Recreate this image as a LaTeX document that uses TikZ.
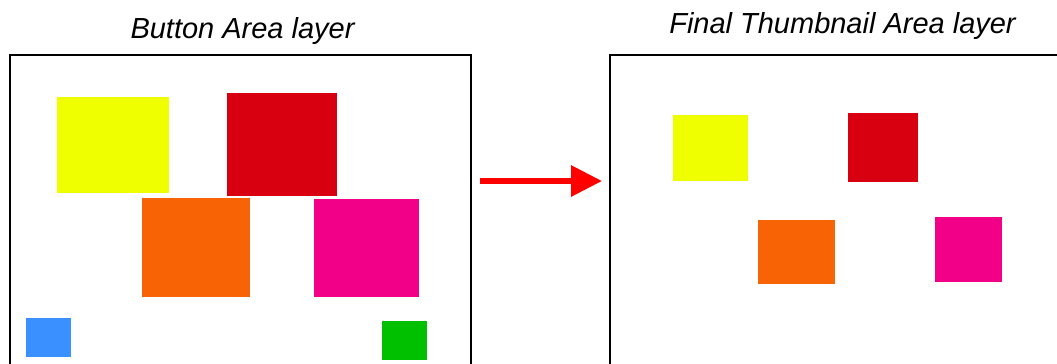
\documentclass[tikz,border=0pt]{standalone}
\usepackage{fontspec}
\setmainfont{Liberation Sans}
\usepackage{tikz}
\usetikzlibrary{arrows.meta,positioning}
\definecolor{byellow}{HTML}{F0FF00}
\definecolor{bred}{HTML}{D80010}
\definecolor{borange}{HTML}{F86405}
\definecolor{bmagenta}{HTML}{F20088}
\definecolor{bblue}{HTML}{3A90FF}
\definecolor{bgreen}{HTML}{00C000}
\definecolor{arrred}{HTML}{FF0000}

\begin{document}
\begin{tikzpicture}[
      x=0.02cm, y=-0.02cm,
      frame/.style={draw=black, line width=0.04cm, inner sep=0pt, minimum height=7.3cm},
      btn/.style={inner sep=0pt, draw=none},
      title/.style={anchor=base, font=\fontsize{16.5}{20}\selectfont\itshape},
      arr/.style={-{Triangle[length=0.62cm, width=0.6cm]}, arrred, line width=0.12cm,
                  shorten <=0.16cm, shorten >=0.14cm}
    ]
    \useasboundingbox (0,0) rectangle (1057,363);
    \clip (0,0) rectangle (1057,363);
    % layers
    \node[frame, minimum width=9.22cm] (lframe) at (240.5,237.5) {};
    \node[frame, minimum width=9.8cm] (rframe) at (855,237.5) {};
    \node[title] (ltitle) at (242.5,38) {Button Area layer};
    \node[title] (rtitle) at (842.5,33) {Final Thumbnail Area layer};
    % buttons
    \node[btn, fill=byellow, minimum width=2.24cm, minimum height=1.92cm] (by) at (113,145) {};
    \node[btn, fill=bred, minimum width=2.2cm, minimum height=2.06cm] (br) at (282,144.5) {};
    \node[btn, fill=borange, minimum width=2.16cm, minimum height=1.98cm] (bo) at (196,247.5) {};
    \node[btn, fill=bmagenta, minimum width=2.1cm, minimum height=1.96cm] (bm) at (366.5,248) {};
    \node[btn, fill=bblue, minimum width=0.9cm, minimum height=0.78cm] (bb) at (48.5,337.5) {};
    \node[btn, fill=bgreen, minimum width=0.9cm, minimum height=0.78cm] (bg) at (404.5,340.5) {};
    % thumbnails
    \node[btn, fill=byellow, minimum width=1.5cm, minimum height=1.32cm] (ty) at (710.5,148) {};
    \node[btn, fill=bred, minimum width=1.4cm, minimum height=1.38cm] (tr) at (883,147.5) {};
    \node[btn, fill=borange, minimum width=1.54cm, minimum height=1.28cm] (to) at (796.5,252) {};
    \node[btn, fill=bmagenta, minimum width=1.34cm, minimum height=1.3cm] (tm) at (968.5,249.5) {};
    \draw[arr] (lframe.east |- 0,181) -- (rframe.west |- 0,181);
  \end{tikzpicture}
\end{document}
